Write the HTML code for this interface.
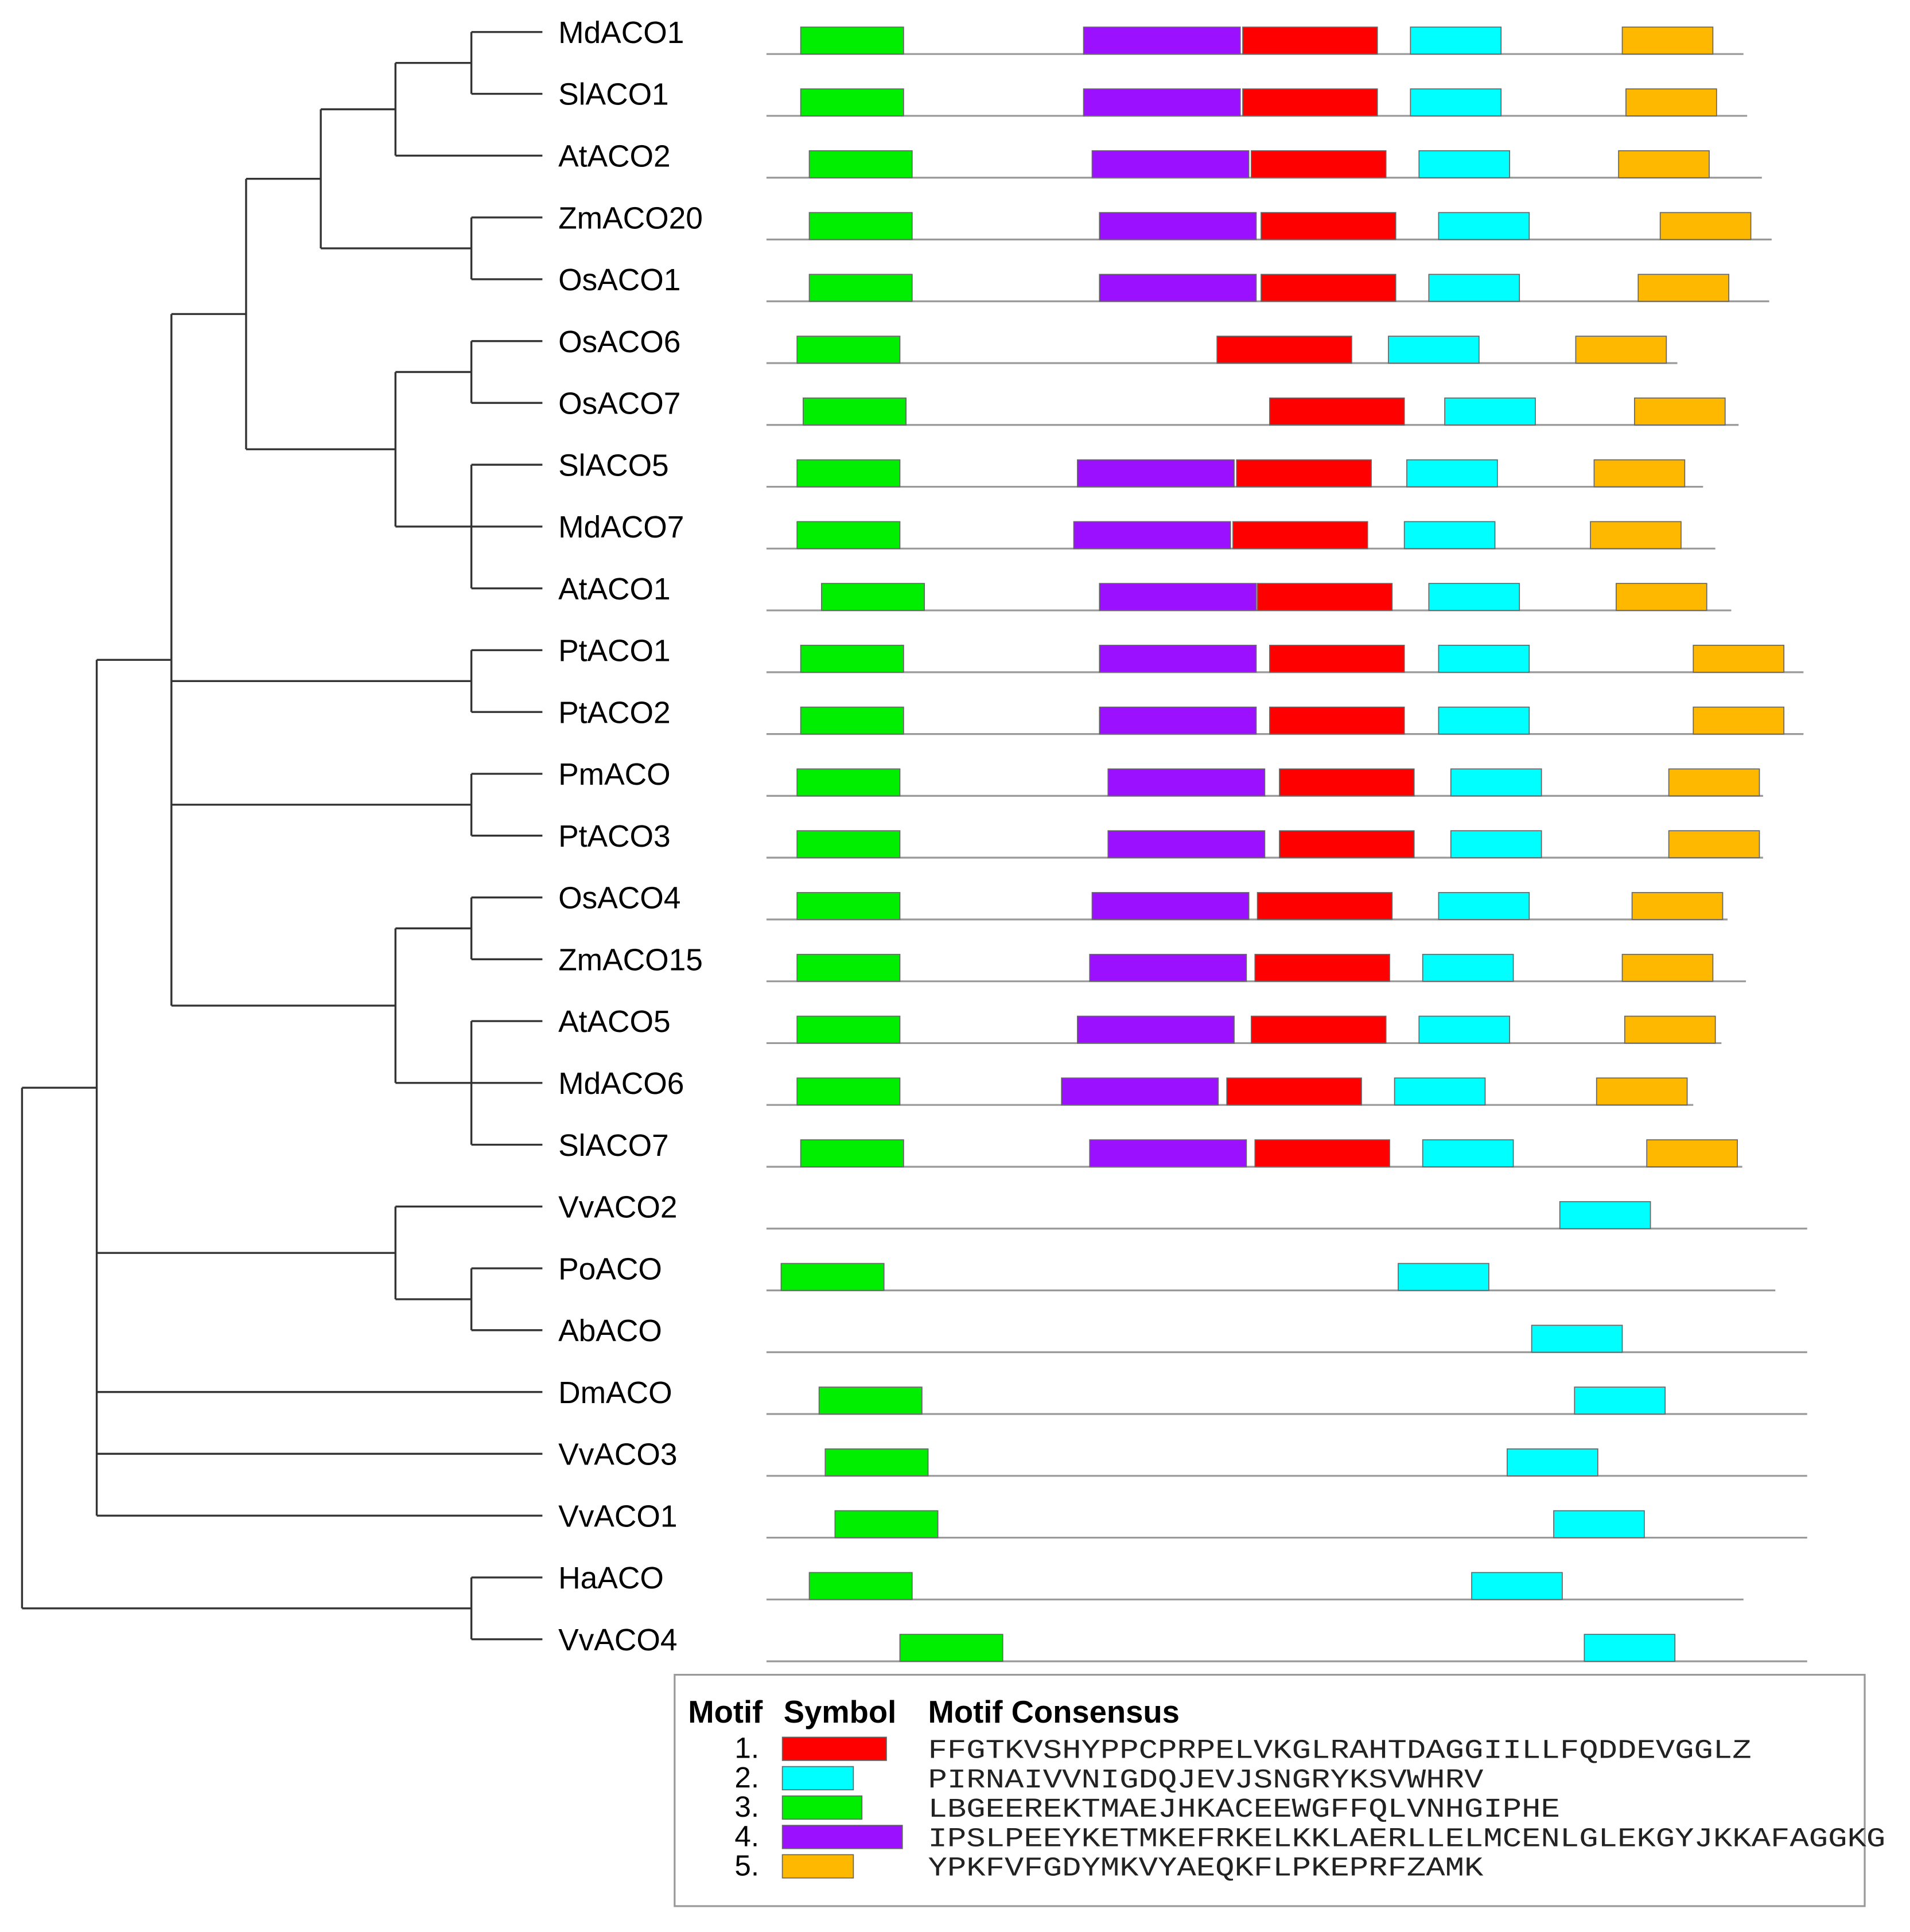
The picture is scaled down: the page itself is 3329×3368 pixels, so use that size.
<!DOCTYPE html>
<html><head><meta charset="utf-8"><style>
html,body{margin:0;padding:0;background:#fff;}
svg{display:block;}
</style></head><body>
<svg id="chart" width="3329" height="3368" viewBox="0 0 1560 1578" xmlns="http://www.w3.org/2000/svg" font-family="Liberation Sans, Arial, sans-serif">
<g id="tree" stroke="#333" stroke-width="1.6" fill="none"></g>
<g id="labels"></g>
<g id="motifs"></g>
<g id="legend">
<rect x="551" y="1368" width="972" height="189" fill="#fff" stroke="#999" stroke-width="1.5"/>
<text x="562" y="1407" font-size="25.5" font-weight="bold">Motif</text>
<text x="640" y="1407" font-size="25.5" font-weight="bold">Symbol</text>
<text x="758" y="1407" font-size="25.5" font-weight="bold">Motif Consensus</text>
</g>
</svg>
<script>
const genes=["MdACO1","SlACO1","AtACO2","ZmACO20","OsACO1","OsACO6","OsACO7","SlACO5","MdACO7","AtACO1","PtACO1","PtACO2","PmACO","PtACO3","OsACO4","ZmACO15","AtACO5","MdACO6","SlACO7","VvACO2","PoACO","AbACO","DmACO","VvACO3","VvACO1","HaACO","VvACO4"];
const lineEnd=[1424,1427,1439,1447,1445,1370,1420,1391,1401,1414,1473,1473,1440,1440,1411,1426,1406,1383,1423,1476,1450,1476,1476,1476,1476,1424,1476];
const greenStart=[654,654,661,661,661,651,656,651,651,671,654,654,651,651,651,651,651,651,654,null,638,null,669,674,682,661,735];
const purpleStart=[885,885,892,898,898,null,null,880,877,898,898,898,905,905,892,890,880,867,890,null,null,null,null,null,null,null,null];
const redStart=[1015,1015,1022,1030,1030,994,1037,1010,1007,1027,1037,1037,1045,1045,1027,1025,1022,1002,1025,null,null,null,null,null,null,null,null];
const cyanStart=[1152,1152,1159,1175,1167,1134,1180,1149,1147,1167,1175,1175,1185,1185,1175,1162,1159,1139,1162,1274,1142,1251,1286,1231,1269,1202,1294];
const orangeStart=[1325,1328,1322,1356,1338,1287,1335,1302,1299,1320,1383,1383,1363,1363,1333,1325,1327,1304,1345,null,null,null,null,null,null,null,null];
const motifNums=["1.","2.","3.","4.","5."];
const motifColors=["#ff0000","#00ffff","#00ee00","#9b10ff","#ffb800"];
const motifLens=[110,74,84,128,74];
const legendLens=[85,58,65,98,58];
const consensus=["FFGTKVSHYPPCPRPELVKGLRAHTDAGGIILLFQDDEVGGLZ","PIRNAIVVNIGDQJEVJSNGRYKSVWHRV","LBGEEREKTMAEJHKACEEWGFFQLVNHGIPHE","IPSLPEEYKETMKEFRKELKKLAERLLELMCENLGLEKGYJKKAFAGGKG","YPKFVFGDYMKVYAEQKFLPKEPRFZAMK"];
const NS="http://www.w3.org/2000/svg";
const rowY=i=>26+50.5*i;
const tree=document.getElementById('tree'),labels=document.getElementById('labels'),motifs=document.getElementById('motifs');
function ln(x1,y1,x2,y2){const l=document.createElementNS(NS,'line');l.setAttribute('x1',x1);l.setAttribute('y1',y1);l.setAttribute('x2',x2);l.setAttribute('y2',y2);


tree.appendChild(l);}
const T={x:18,c:[{x:79,c:[{x:140,c:[{x:201,c:[{x:262,c:[{x:323,c:[{x:385,c:[0,1]},2]},{x:385,c:[3,4]}]},{x:323,c:[{x:385,c:[5,6]},{x:385,c:[7,8,9]}]}]},{x:385,c:[10,11]},{x:385,c:[12,13]},{x:323,c:[{x:385,c:[14,15]},{x:385,c:[16,17,18]}]}]},{x:323,c:[19,{x:385,c:[20,21]}]},22,23,24]},{x:385,c:[25,26]}]};
function draw(n){const ys=n.c.map(ch=>{if(typeof ch==='number'){ln(n.x,rowY(ch),443,rowY(ch));return rowY(ch);}const y=draw(ch);ln(n.x,y,ch.x,y);return y;});
const mn=Math.min(...ys),mx=Math.max(...ys);ln(n.x,mn,n.x,mx);
const mid=n.c.length===3&&typeof n.c[1]==='number'?ys[1]:(mn+mx)/2;return mid;}
draw(T);
genes.forEach((g,i)=>{const y=rowY(i);
const t=document.createElementNS(NS,'text');t.setAttribute('x',456);t.setAttribute('y',y+9);t.setAttribute('font-size',25);t.textContent=g;


labels.appendChild(t);
const by=y+18;const l=document.createElementNS(NS,'line');l.setAttribute('x1',626);l.setAttribute('x2',lineEnd[i]);l.setAttribute('y1',by);l.setAttribute('y2',by);l.setAttribute('stroke','#999');l.setAttribute('stroke-width',1.5);


motifs.appendChild(l);
const starts=[redStart[i],cyanStart[i],greenStart[i],purpleStart[i],orangeStart[i]];
starts.forEach((s,k)=>{if(s==null)return;const r=document.createElementNS(NS,'rect');r.setAttribute('x',s);r.setAttribute('y',by-22);r.setAttribute('width',motifLens[k]);r.setAttribute('height',22);r.setAttribute('fill',motifColors[k]);r.setAttribute('stroke','#666');r.setAttribute('stroke-width',0.8);


motifs.appendChild(r);});
});
const lg=document.getElementById('legend');
motifNums.forEach((m,k)=>{const y=1428+24*k;
const n=document.createElementNS(NS,'text');n.setAttribute('x',620);n.setAttribute('y',y+8);n.setAttribute('font-size',24);n.setAttribute('text-anchor','end');n.textContent=m;


lg.appendChild(n);
const r=document.createElementNS(NS,'rect');r.setAttribute('x',639);r.setAttribute('y',y-9);r.setAttribute('width',legendLens[k]);r.setAttribute('height',19);r.setAttribute('fill',motifColors[k]);r.setAttribute('stroke','#666');r.setAttribute('stroke-width',0.8);


lg.appendChild(r);
const c=document.createElementNS(NS,'text');c.setAttribute('x',758);c.setAttribute('y',y+8);c.setAttribute('font-size',22);c.setAttribute('font-family','Liberation Mono, monospace');c.setAttribute('fill','#222');
c.setAttribute('textLength',consensus[k].length*15.64);c.setAttribute('lengthAdjust','spacingAndGlyphs');c.textContent=consensus[k];


lg.appendChild(c);});
</script>
</body></html>
